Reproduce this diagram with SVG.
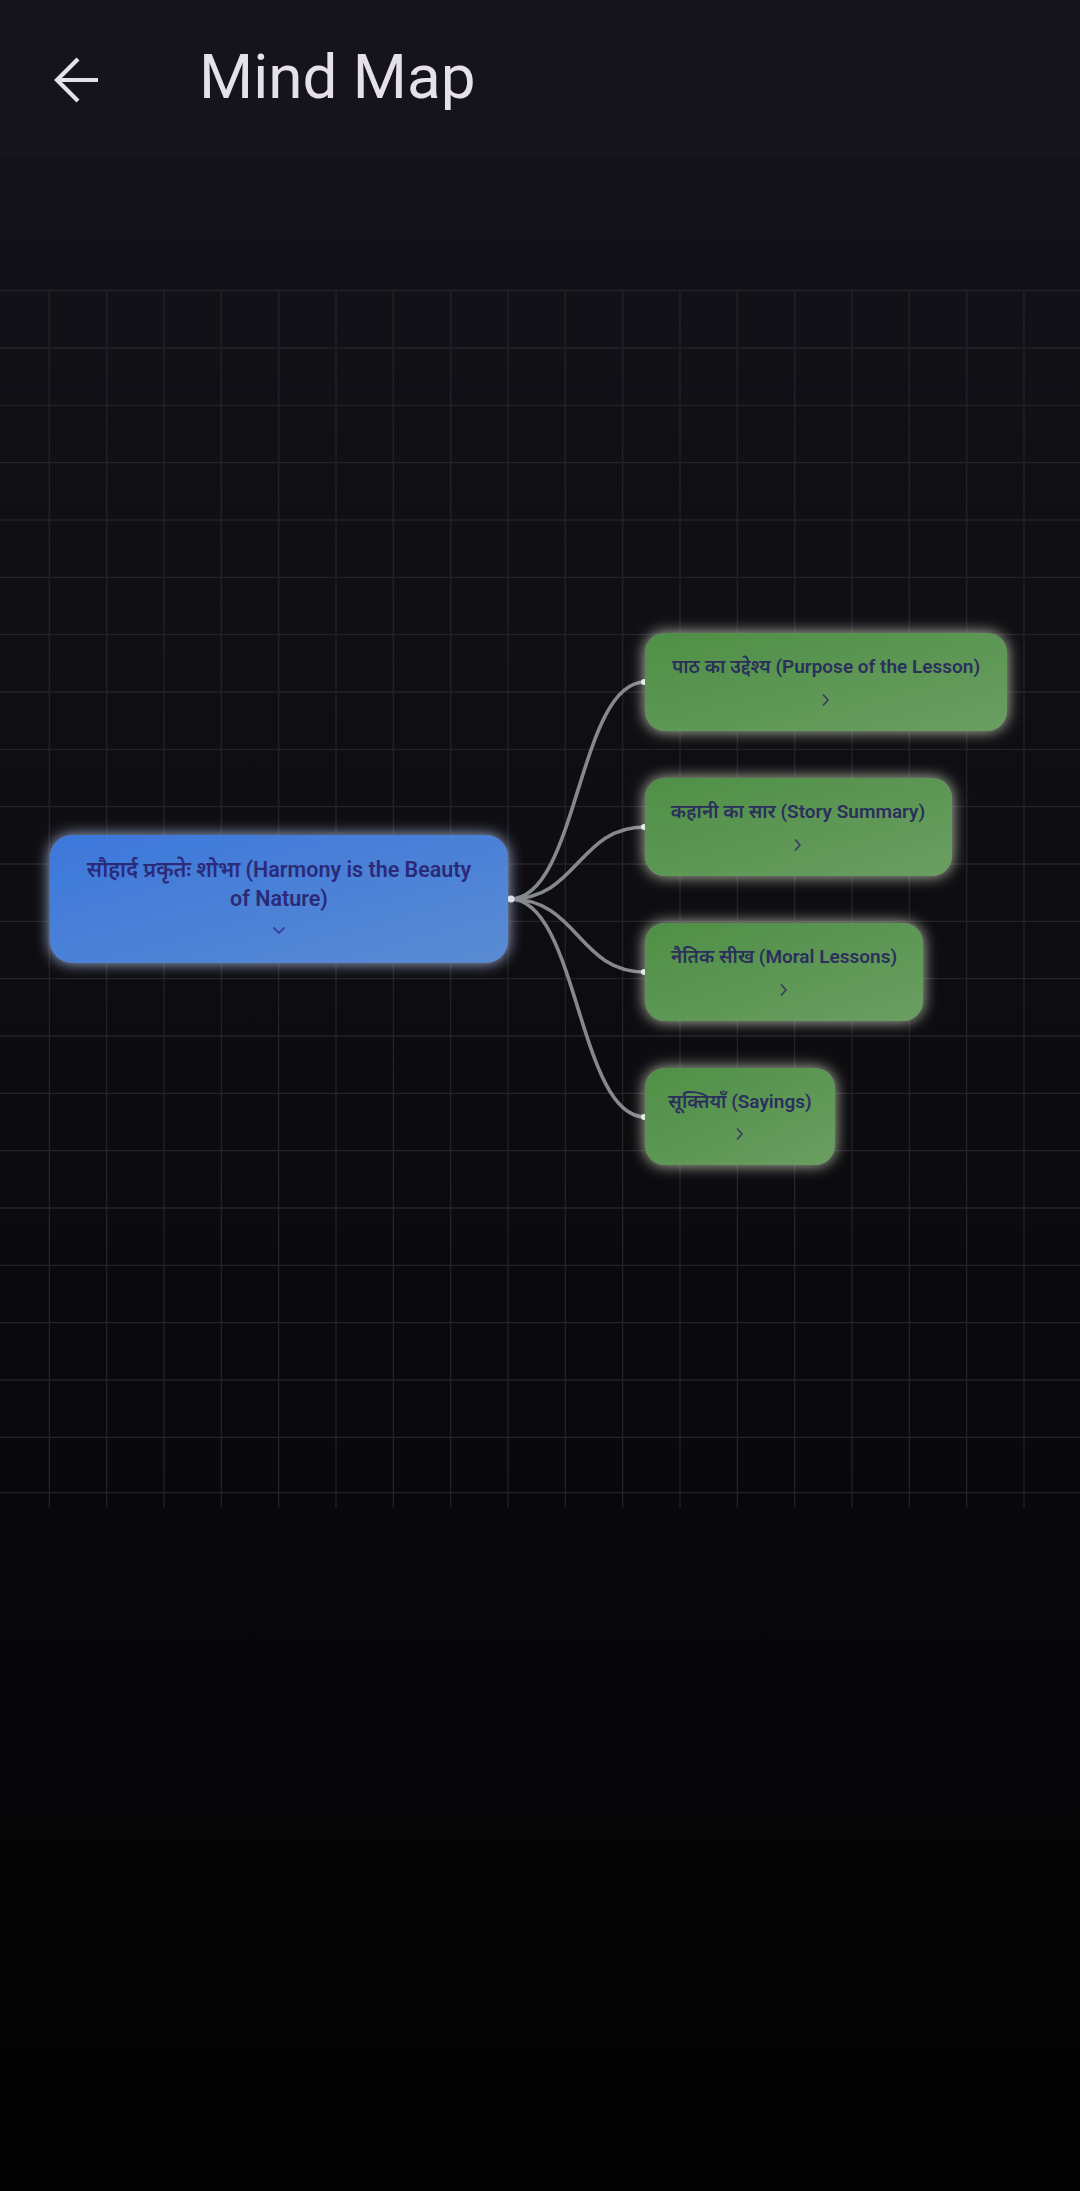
<svg xmlns="http://www.w3.org/2000/svg" width="1080" height="2191" viewBox="0 0 1080 2191">
<defs>
<linearGradient id="bg" x1="0" y1="0" x2="0" y2="1">
<stop offset="0" stop-color="#15131a"/>
<stop offset="0.45" stop-color="#0d0c10"/>
<stop offset="1" stop-color="#020203"/>
</linearGradient>
<linearGradient id="blue" x1="0" y1="0" x2="1" y2="1">
<stop offset="0" stop-color="#3c77dc"/>
<stop offset="1" stop-color="#5a8bd2"/>
</linearGradient>
<linearGradient id="green" x1="0" y1="0" x2="1" y2="1">
<stop offset="0" stop-color="#4f8f46"/>
<stop offset="1" stop-color="#6a9e62"/>
</linearGradient>
<filter id="glowBlue" x="-20%" y="-40%" width="140%" height="180%">
<feDropShadow dx="0" dy="0" stdDeviation="7.5" flood-color="#c0d6ff" flood-opacity="0.85"/>
</filter>
<filter id="glowGreen" x="-20%" y="-40%" width="140%" height="180%">
<feDropShadow dx="0" dy="0" stdDeviation="7.5" flood-color="#eaf8d8" flood-opacity="0.8"/>
</filter>
</defs>
<style>
.grid line{stroke:#24232a;stroke-width:1.3}
.edge{fill:none;stroke:#85888d;stroke-width:3.6;stroke-linecap:round}
.dot{fill:#dfe6ea}
.root rect{fill:url(#blue);filter:url(#glowBlue)}
.child rect{fill:url(#green);filter:url(#glowGreen)}
.rt{font-family:Roboto,"Noto Sans","Noto Sans Devanagari",sans-serif;font-size:21.5px;font-weight:600;fill:#2b2a78;text-anchor:middle}
.ct{font-family:Roboto,"Noto Sans","Noto Sans Devanagari",sans-serif;font-size:19px;font-weight:600;fill:#2a2f5c;text-anchor:middle}
.chev{fill:none;stroke:#3b4060;stroke-width:1.8;stroke-linecap:round;stroke-linejoin:round}
.chevr{fill:none;stroke:#3d3fa8;stroke-width:1.8;stroke-linecap:round;stroke-linejoin:round}
</style>
<rect x="0" y="0" width="1080" height="2191" fill="url(#bg)"/>
<rect x="0" y="0" width="1080" height="157" fill="#16141b"/>
<g id="header">
<path d="M78 59 L57 80 L78 101 M57 80 L98 80" fill="none" stroke="#e6e0ea" stroke-width="4.2"/>
<text x="199" y="98" font-family="Roboto,sans-serif" font-size="62" fill="#e6e0ea">Mind Map</text>
</g>
<g class="grid">
<line x1="0" y1="290.7" x2="1080" y2="290.7"/>
<line x1="0" y1="348" x2="1080" y2="348"/>
<line x1="0" y1="405.3" x2="1080" y2="405.3"/>
<line x1="0" y1="462.7" x2="1080" y2="462.7"/>
<line x1="0" y1="520" x2="1080" y2="520"/>
<line x1="0" y1="577.3" x2="1080" y2="577.3"/>
<line x1="0" y1="634.7" x2="1080" y2="634.7"/>
<line x1="0" y1="692" x2="1080" y2="692"/>
<line x1="0" y1="749.3" x2="1080" y2="749.3"/>
<line x1="0" y1="806.7" x2="1080" y2="806.7"/>
<line x1="0" y1="864" x2="1080" y2="864"/>
<line x1="0" y1="921.3" x2="1080" y2="921.3"/>
<line x1="0" y1="978.7" x2="1080" y2="978.7"/>
<line x1="0" y1="1036" x2="1080" y2="1036"/>
<line x1="0" y1="1093.3" x2="1080" y2="1093.3"/>
<line x1="0" y1="1150.7" x2="1080" y2="1150.7"/>
<line x1="0" y1="1208" x2="1080" y2="1208"/>
<line x1="0" y1="1265.3" x2="1080" y2="1265.3"/>
<line x1="0" y1="1322.7" x2="1080" y2="1322.7"/>
<line x1="0" y1="1380" x2="1080" y2="1380"/>
<line x1="0" y1="1437.3" x2="1080" y2="1437.3"/>
<line x1="0" y1="1492.7" x2="1080" y2="1492.7"/>
<line x1="49.3" y1="290" x2="49.3" y2="1508"/>
<line x1="106.7" y1="290" x2="106.7" y2="1508"/>
<line x1="164" y1="290" x2="164" y2="1508"/>
<line x1="221.3" y1="290" x2="221.3" y2="1508"/>
<line x1="278.7" y1="290" x2="278.7" y2="1508"/>
<line x1="336" y1="290" x2="336" y2="1508"/>
<line x1="393.3" y1="290" x2="393.3" y2="1508"/>
<line x1="450.7" y1="290" x2="450.7" y2="1508"/>
<line x1="508" y1="290" x2="508" y2="1508"/>
<line x1="565.3" y1="290" x2="565.3" y2="1508"/>
<line x1="622.7" y1="290" x2="622.7" y2="1508"/>
<line x1="680" y1="290" x2="680" y2="1508"/>
<line x1="737.3" y1="290" x2="737.3" y2="1508"/>
<line x1="794.7" y1="290" x2="794.7" y2="1508"/>
<line x1="852" y1="290" x2="852" y2="1508"/>
<line x1="909.3" y1="290" x2="909.3" y2="1508"/>
<line x1="966.7" y1="290" x2="966.7" y2="1508"/>
<line x1="1024" y1="290" x2="1024" y2="1508"/>
</g>
<g id="connectors">
<path class="edge" d="M510 899 C578 899 578 682 645 682"/>
<path class="edge" d="M510 899 C578 899 578 827 645 827"/>
<path class="edge" d="M510 899 C578 899 578 972 645 972"/>
<path class="edge" d="M510 899 C578 899 578 1117 645 1117"/>
<circle class="dot" cx="511" cy="899" r="3.5"/>
<circle class="dot" cx="644" cy="682" r="3"/>
<circle class="dot" cx="644" cy="827" r="3"/>
<circle class="dot" cx="644" cy="972" r="3"/>
<circle class="dot" cx="644" cy="1117" r="3"/>
</g>
<g id="root" class="root">
<rect x="50" y="835" width="458" height="128" rx="22"/>
<text class="rt" x="279" y="877">सौहार्द प्रकृतेः शोभा (Harmony is the Beauty</text>
<text class="rt" x="279" y="906">of Nature)</text>
<path class="chevr" d="M274 928 L279 933 L284 928"/>
</g>
<g id="n1" class="child">
<rect x="645" y="633" width="362" height="98" rx="20"/>
<text class="ct" x="826" y="673">पाठ का उद्देश्य (Purpose of the Lesson)</text>
<path class="chev" d="M823.5 695 L828 700 L823.5 705"/>
</g>
<g id="n2" class="child">
<rect x="645" y="778" width="307" height="98" rx="20"/>
<text class="ct" x="798" y="818">कहानी का सार (Story Summary)</text>
<path class="chev" d="M795.5 840 L800 845 L795.5 850"/>
</g>
<g id="n3" class="child">
<rect x="645" y="923" width="278" height="98" rx="20"/>
<text class="ct" x="784" y="963">नैतिक सीख (Moral Lessons)</text>
<path class="chev" d="M781.5 985 L786 990 L781.5 995"/>
</g>
<g id="n4" class="child">
<rect x="645" y="1068" width="190" height="97" rx="20"/>
<text class="ct" x="740" y="1108">सूक्तियाँ (Sayings)</text>
<path class="chev" d="M737.5 1129 L742 1134 L737.5 1139"/>
</g>
</svg>
